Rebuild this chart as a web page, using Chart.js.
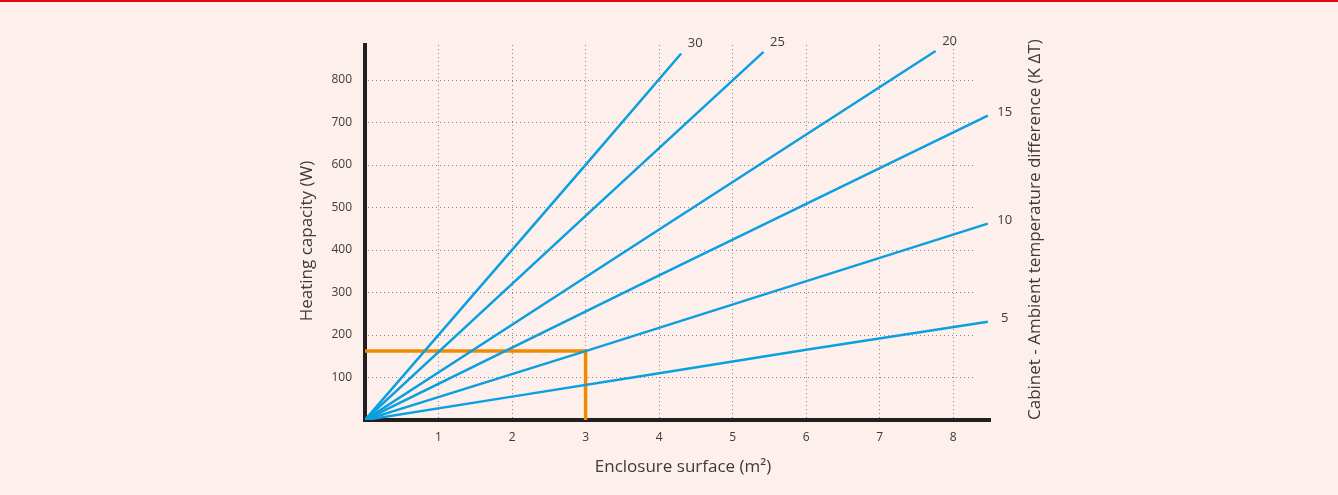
<!DOCTYPE html>
<html>
<head>
<meta charset="utf-8">
<title>Heating capacity chart</title>
<script src="https://cdn.jsdelivr.net/npm/chart.js@4.4.1/dist/chart.umd.min.js"></script>
<style>
    html,
    body {
        margin: 0;
        padding: 0;
        background: #fdf0ec;
    }
    #wrap {
        width: 1338px;
        height: 495px;
        position: relative;
    }
</style>
</head>
<body>
<div id="wrap"><canvas id="chart"></canvas></div>
<script>
// Enclosure surface (m²) against heating capacity (W), one line per ΔT
const dtLabels = ["5", "10", "15", "20", "25", "30"];

const dt5X = [0, 2, 4, 6, 8.47];
const dt5Y = [0, 55, 110, 165, 231];
const dt10X = [0, 3, 8.47];
const dt10Y = [0, 162, 462];
const dt15X = [0, 4, 8.47];
const dt15Y = [0, 340, 716];
const dt20X = [0, 4, 7.76];
const dt20Y = [0, 448, 868];
const dt25X = [0, 3, 5.42];
const dt25Y = [0, 480, 866];
const dt30X = [0, 3, 4.3];
const dt30Y = [0, 600, 862];

// Reading example: 3 m² at 10 K gives about 162 W
const markX = [0, 3, 3];
const markY = [162, 162, 0];

const xTicks = [1, 2, 3, 4, 5, 6, 7, 8];
const yTicks = [100, 200, 300, 400, 500, 600, 700, 800];

const xTitle = "Enclosure surface (m\u00b2)";
const yTitle = "Heating capacity (W)";
const dtTitle = "Cabinet - Ambient temperature difference (K \u0394T)";

const TEXT = "#3d3a3a";
const FONT = "'Open Sans', 'DejaVu Sans', sans-serif";
const BLUE = "#0b9fe0";
const ORANGE = "#f18a00";

function toPoints(xs, ys) {
    return xs.map((x, i) => ({ x: x, y: ys[i] }));
}

const seriesX = [dt5X, dt10X, dt15X, dt20X, dt25X, dt30X];
const seriesY = [dt5Y, dt10Y, dt15Y, dt20Y, dt25Y, dt30Y];

const datasets = dtLabels.map((label, i) => ({
    label: label,
    data: toPoints(seriesX[i], seriesY[i]),
    borderColor: BLUE,
    borderWidth: 2.5,
    pointRadius: 0,
    tension: 0,
}));

datasets.push({
    label: "mark",
    data: toPoints(markX, markY),
    borderColor: ORANGE,
    borderWidth: 3.5,
    pointRadius: 0,
    tension: 0,
    borderJoinStyle: "miter",
});

/**
 * Page background and the thin red rule at the top
 */
const backgroundPlugin = {
    id: "background",
    beforeDraw(chart) {
        const ctx = chart.ctx;
        ctx.save();
        ctx.fillStyle = "#fdf0ec";
        ctx.fillRect(0, 0, chart.width, chart.height);
        ctx.fillStyle = "#e30613";
        ctx.fillRect(0, 0, chart.width, 2);
        ctx.restore();
    },
};

/**
 * Dotted horizontal grid, stopping a little short of the x axis end
 */
const hGridPlugin = {
    id: "hGrid",
    beforeDatasetsDraw(chart) {
        const { ctx, chartArea, scales } = chart;
        const xEnd = scales.x.getPixelForValue(8.27);
        ctx.save();
        ctx.strokeStyle = "#8c8585";
        ctx.lineWidth = 1;
        ctx.setLineDash([1, 3]);
        yTicks.forEach((v) => {
            const y = Math.round(scales.y.getPixelForValue(v)) + 0.5;
            ctx.beginPath();
            ctx.moveTo(chartArea.left + 3, y);
            ctx.lineTo(xEnd, y);
            ctx.stroke();
        });
        ctx.restore();
    },
};

/**
 * ΔT labels at the end of each line, plus the three axis titles
 */
const labelsPlugin = {
    id: "lineLabels",
    afterDatasetsDraw(chart) {
        const { ctx, chartArea, scales } = chart;
        ctx.save();
        ctx.fillStyle = TEXT;
        ctx.font = "13px " + FONT;
        ctx.textAlign = "center";
        ctx.textBaseline = "middle";
        dtLabels.forEach((label, i) => {
            const meta = chart.getDatasetMeta(i);
            const last = meta.data[meta.data.length - 1];
            const xs = seriesX[i];
            const atTop = xs[xs.length - 1] < scales.x.max - 0.1;
            if (atTop) {
                ctx.fillText(label, last.x + 14, last.y - 10);
            } else {
                ctx.fillText(label, last.x + 17, last.y - 3);
            }
        });

        ctx.font = "17px " + FONT;

        // x title
        ctx.fillText(xTitle, chartArea.left + 318, chartArea.bottom + 47);

        // left title
        ctx.save();
        ctx.translate(chartArea.left - 58, chartArea.bottom - 179);
        ctx.rotate(-Math.PI / 2);
        ctx.fillText(yTitle, 0, 0);
        ctx.restore();

        // right title, bottom aligned with the x axis
        ctx.textAlign = "left";
        ctx.translate(chartArea.right + 45, chartArea.bottom);
        ctx.rotate(-Math.PI / 2);
        ctx.fillText(dtTitle, 0, 0);
        ctx.restore();
    },
};

new Chart(document.getElementById("chart"), {
    type: "line",
    data: { datasets: datasets },
    options: {
        responsive: true,
        maintainAspectRatio: false,
        animation: false,
        layout: {
            padding: { left: 293, right: 348, top: 45, bottom: 15 },
        },
        plugins: {
            legend: { display: false },
            tooltip: { enabled: false },
        },
        scales: {
            x: {
                type: "linear",
                min: 0,
                max: 8.5,
                afterBuildTicks: (scale) => {
                    scale.ticks = xTicks.map((v) => ({ value: v }));
                },
                afterFit: (scale) => {
                    scale.height = 60;
                },
                ticks: {
                    color: TEXT,
                    padding: 10,
                    font: { family: FONT, size: 12 },
                },
                grid: {
                    color: "#8c8585",
                    lineWidth: 1,
                    drawTicks: false,
                },
                border: {
                    display: true,
                    color: "#231f20",
                    width: 4,
                    dash: [1, 3],
                },
            },
            y: {
                min: 0,
                max: 882,
                afterBuildTicks: (scale) => {
                    scale.ticks = yTicks.map((v) => ({ value: v }));
                },
                afterFit: (scale) => {
                    scale.width = 72;
                },
                ticks: {
                    color: TEXT,
                    padding: 13,
                    font: { family: FONT, size: 12 },
                },
                grid: {
                    display: false,
                    drawTicks: false,
                },
                border: {
                    display: true,
                    color: "#231f20",
                    width: 4,
                },
            },
        },
    },
    plugins: [backgroundPlugin, hGridPlugin, labelsPlugin],
});
</script>
</body>
</html>
